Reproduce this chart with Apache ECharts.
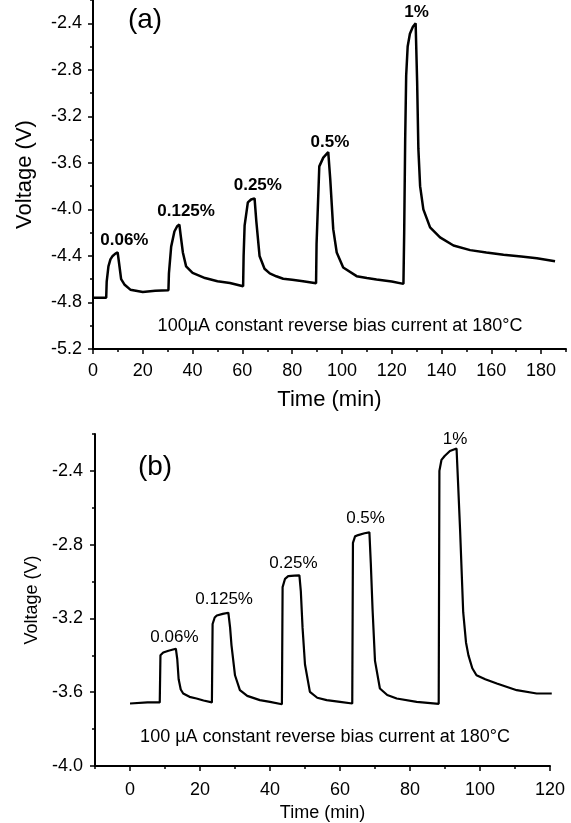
<!DOCTYPE html>
<html>
<head>
<meta charset="utf-8">
<script src="https://cdn.jsdelivr.net/npm/echarts@6/dist/echarts.min.js"></script>
<style>
  html, body { margin: 0; padding: 0; background: #fff; }
  #chart { width: 571px; height: 823px; }
</style>
</head>
<body>
<div id="chart"></div>
<script>
// panel (a): 100uA, bold concentration labels
var aTime = [0, 5.3, 5.5, 6.2, 7.0, 7.9, 9.0, 9.9, 10.4, 11.3, 12.6, 15, 20, 25, 30.3,
    30.5, 31.4, 32.7, 33.8, 34.7, 35.2, 36.1, 37.4, 40, 45, 50, 55, 60.3,
    60.5, 60.9, 62.2, 63.5, 64.9, 65.6, 66.9, 68.9, 71, 73.6, 76.4, 80, 84.4, 89.6,
    89.8, 90.9, 92.5, 94.5, 95.3, 96.5, 97.9, 100.5, 105.9, 110, 113.9, 120, 124.7,
    125.0, 125.4, 125.8, 126.4, 127.3, 128.5, 129.6, 130.2, 130.7, 131.4, 132.7, 135.4,
    139.4, 144.8, 151.5, 158, 164.9, 172, 178.3, 185.6];
var aVolt = [-4.76, -4.76, -4.62, -4.49, -4.43, -4.40, -4.38, -4.37, -4.45, -4.60, -4.645, -4.69, -4.71, -4.70, -4.695,
    -4.55, -4.32, -4.19, -4.145, -4.13, -4.22, -4.37, -4.49, -4.545, -4.59, -4.617, -4.632, -4.66,
    -4.40, -4.14, -3.94, -3.915, -3.905, -4.10, -4.40, -4.51, -4.55, -4.575, -4.596, -4.605, -4.617, -4.635,
    -4.30, -3.63, -3.555, -3.507, -3.74, -4.17, -4.37, -4.50, -4.574, -4.59, -4.602, -4.62, -4.64,
    -4.20, -3.40, -2.85, -2.60, -2.49, -2.43, -2.40, -2.90, -3.48, -3.80, -4.00, -4.155,
    -4.24, -4.31, -4.35, -4.37, -4.39, -4.405, -4.42, -4.445];
var aLabels = ['0.06%', '0.125%', '0.25%', '0.5%', '1%'];
var aLabelTime = [12.6, 37.4, 66.2, 95.2, 130];
var aLabelVolt = [-4.27, -4.015, -3.79, -3.42, -2.308];
var aXTicks = [0, 20, 40, 60, 80, 100, 120, 140, 160, 180];
var aXMinor = [10, 30, 50, 70, 90, 110, 130, 150, 170, 190];
var aYTicks = [-5.2, -4.8, -4.4, -4.0, -3.6, -3.2, -2.8, -2.4];
var aYMinor = [-5.0, -4.6, -4.2, -3.8, -3.4, -3.0, -2.6, -2.2];

// panel (b)
var bTime = [0, 5, 8.5, 8.7, 9.5, 11, 13.1, 13.5, 13.9, 14.5, 15.2, 17, 19, 21, 23.4,
    23.6, 24.2, 24.8, 26.5, 28.1, 28.6, 29.0, 30, 31.4, 33.5, 37.1, 40, 43.4,
    43.6, 44.3, 45.2, 47, 48.4, 48.8, 49.3, 50, 51.4, 53.5, 56.2, 60, 63.5,
    63.7, 64.3, 65.2, 67, 68.4, 68.8, 69.3, 70, 71.4, 73.5, 76.2, 81.9, 88.2,
    88.4, 89.0, 89.9, 91.4, 93.3, 93.7, 94.3, 95.2, 96, 96.7, 97.8, 99, 101.5, 104.8,
    110.5, 116.2, 120.5];
var bVolt = [-3.661, -3.655, -3.655, -3.40, -3.385, -3.375, -3.364, -3.42, -3.53, -3.585, -3.607, -3.625, -3.634, -3.645, -3.655,
    -3.23, -3.195, -3.184, -3.175, -3.169, -3.25, -3.346, -3.508, -3.589, -3.62, -3.643, -3.652, -3.665,
    -3.03, -2.985, -2.971, -2.968, -2.966, -3.05, -3.25, -3.45, -3.598, -3.63, -3.643, -3.652, -3.661,
    -2.79, -2.755, -2.748, -2.738, -2.733, -2.90, -3.15, -3.43, -3.58, -3.615, -3.634, -3.652, -3.663,
    -2.40, -2.34, -2.319, -2.292, -2.279, -2.45, -2.715, -3.166, -3.33, -3.40, -3.47, -3.508, -3.53, -3.553,
    -3.589, -3.607, -3.607];
var bLabels = ['0.06%', '0.125%', '0.25%', '0.5%', '1%'];
var bLabelTime = [12.7, 26.9, 46.7, 67.3, 92.9];
var bLabelVolt = [-3.304, -3.094, -2.90, -2.657, -2.229];
var bXTicks = [0, 20, 40, 60, 80, 100, 120];
var bXMinor = [-10, 10, 30, 50, 70, 90, 110];
var bYTicks = [-4.0, -3.6, -3.2, -2.8, -2.4];
var bYMinor = [-3.8, -3.4, -3.0, -2.6, -2.2];

var fontFamily = 'Liberation Sans';

function zip(xs, ys) {
    return xs.map(function (x, i) { return [x, ys[i]]; });
}

// axis with major ticks + labels
function mainAxis(grid, pos, min, max, ticks, fmt, margin, name, nameGap, nameSize) {
    return {
        type: 'value', gridIndex: grid, position: pos, min: min, max: max,
        axisLine: { show: true, onZero: false, lineStyle: { color: '#000', width: 2 } },
        axisTick: { show: true, length: 5, customValues: ticks, lineStyle: { color: '#000', width: 1.5 } },
        axisLabel: { customValues: ticks, color: '#000', fontSize: 18, fontFamily: fontFamily, margin: margin, formatter: fmt },
        splitLine: { show: false },
        name: name, nameLocation: 'middle', nameGap: nameGap,
        nameTextStyle: { color: '#000', fontSize: nameSize, fontFamily: fontFamily }
    };
}

// overlay axis that only draws the minor ticks
function minorAxis(grid, pos, min, max, ticks) {
    return {
        type: 'value', gridIndex: grid, position: pos, min: min, max: max,
        axisLine: { show: false, onZero: false },
        axisTick: { show: true, length: 3, customValues: ticks, lineStyle: { color: '#000', width: 1.5 } },
        axisLabel: { show: false },
        splitLine: { show: false }
    };
}

function fmtInt(v) { return String(Math.round(v)); }
function fmtOne(v) { return v.toFixed(1); }

function labelSeries(xi, names, ts, vs, weight) {
    return {
        type: 'scatter', xAxisIndex: xi, yAxisIndex: xi, silent: true,
        symbolSize: 0, itemStyle: { color: '#000' },
        data: names.map(function (s, i) { return { name: s, value: [ts[i], vs[i]] }; }),
        label: { show: true, position: 'inside', formatter: '{b}', color: '#000', opacity: 1,
                 fontSize: 17, fontWeight: weight, fontFamily: fontFamily }
    };
}

var chart = echarts.init(document.getElementById('chart'), null, { renderer: 'canvas' });

var option = {
    animation: false,
    backgroundColor: '#fff',
    textStyle: { fontFamily: fontFamily },
    grid: [
        { left: 93, top: 0, width: 473, height: 349 },
        { left: 95, top: 434, width: 455, height: 333 }
    ],
    xAxis: [
        mainAxis(0, 'bottom', 0, 190, aXTicks, fmtInt, 13, 'Time (min)', 40, 22),
        minorAxis(0, 'bottom', 0, 190, aXMinor),
        mainAxis(1, 'bottom', -10, 120, bXTicks, fmtInt, 15, 'Time (min)', 38, 18),
        minorAxis(1, 'bottom', -10, 120, bXMinor)
    ],
    yAxis: [
        mainAxis(0, 'left', -5.2, -2.2, aYTicks, fmtOne, 11, 'Voltage (V)', 57, 22),
        minorAxis(0, 'left', -5.2, -2.2, aYMinor),
        mainAxis(1, 'left', -4.0, -2.2, bYTicks, fmtOne, 12, 'Voltage (V)', 53, 18),
        minorAxis(1, 'left', -4.0, -2.2, bYMinor)
    ],
    series: [
        {
            type: 'line', xAxisIndex: 0, yAxisIndex: 0,
            data: zip(aTime, aVolt), showSymbol: false, silent: true,
            lineStyle: { color: '#000', width: 2.5 }
        },
        labelSeries(0, aLabels, aLabelTime, aLabelVolt, 'bold'),
        {
            type: 'line', xAxisIndex: 2, yAxisIndex: 2,
            data: zip(bTime, bVolt), showSymbol: false, silent: true,
            lineStyle: { color: '#000', width: 2.2 }
        },
        labelSeries(2, bLabels, bLabelTime, bLabelVolt, 'normal')
    ],
    graphic: [
        { type: 'text', x: 145, y: 20, style: { text: '(a)', fill: '#000', font: '28px "Liberation Sans"', textAlign: 'center', textVerticalAlign: 'middle' } },
        { type: 'text', x: 155, y: 467, style: { text: '(b)', fill: '#000', font: '28px "Liberation Sans"', textAlign: 'center', textVerticalAlign: 'middle' } },
        { type: 'text', x: 340, y: 326, style: { text: '100\u00b5A constant reverse bias current at 180\u00b0C', fill: '#000', font: '18px "Liberation Sans"', textAlign: 'center', textVerticalAlign: 'middle' } },
        { type: 'text', x: 325, y: 737, style: { text: '100 \u00b5A constant reverse bias current at 180\u00b0C', fill: '#000', font: '18px "Liberation Sans"', textAlign: 'center', textVerticalAlign: 'middle' } }
    ]
};

chart.setOption(option);
</script>
</body>
</html>
